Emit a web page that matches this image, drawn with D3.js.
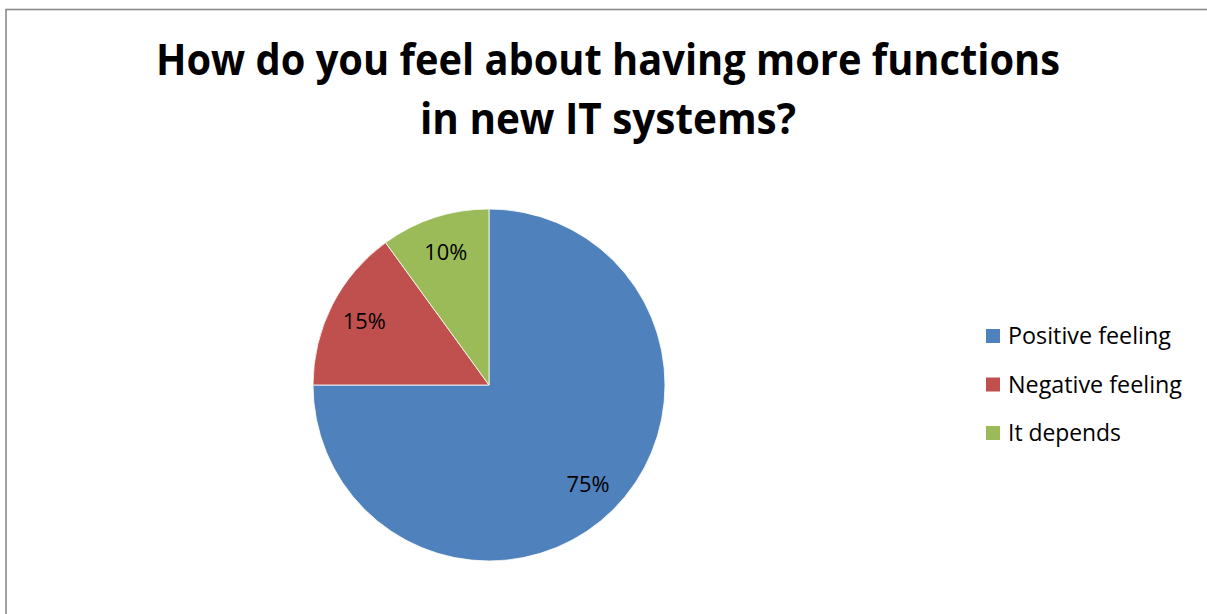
<!DOCTYPE html>
<html>
<head>
<meta charset="utf-8">
<script src="https://cdn.jsdelivr.net/npm/d3@7"></script>
<style>
  html, body { margin: 0; padding: 0; background: #fff; }
  svg { display: block; }
</style>
</head>
<body>
<svg id="chart" width="1207" height="614"></svg>
<script>
// Survey answers
const categories = ["Positive feeling", "Negative feeling", "It depends"];
const shares = [75, 15, 10];
const sliceColors = ["#4F81BD", "#C0504D", "#9BBB59"];
const titleLines = ["How do you feel about having more functions", "in new IT systems?"];

const svg = d3.select("#chart");
const W = 1207, H = 614;

// Chart frame (runs past the right and bottom edges)
svg.append("rect")
  .attr("x", 6).attr("y", 9.5)
  .attr("width", W + 20).attr("height", H + 20)
  .attr("fill", "#fff")
  .attr("stroke", "#8a8a8a")
  .attr("stroke-width", 1.6);

// Title
const titleWidths = [904, 376];
const titleBase = [75, 134];
titleLines.forEach((t, i) => {
  svg.append("text")
    .attr("x", 608).attr("y", titleBase[i])
    .attr("text-anchor", "middle")
    .attr("font-family", "'Open Sans', sans-serif")
    .attr("font-weight", "bold")
    .attr("font-size", 43)
    .attr("fill", "#000")
    .attr("textLength", titleWidths[i])
    .attr("lengthAdjust", "spacingAndGlyphs")
    .text(t);
});

// Pie
const cx = 489, cy = 385, radius = 176;
const color = d3.scaleOrdinal().domain(categories).range(sliceColors);
const pie = d3.pie().sort(null).value(d => d.value);
const data = categories.map((c, i) => ({ name: c, value: shares[i] }));
const arcs = pie(data);
const arc = d3.arc().innerRadius(0).outerRadius(radius);
const labelArc = d3.arc().innerRadius(140).outerRadius(140);

const g = svg.append("g").attr("transform", `translate(${cx},${cy})`);
g.selectAll("path.slice")
  .data(arcs)
  .join("path")
  .attr("class", "slice")
  .attr("d", arc)
  .attr("fill", d => color(d.data.name))
  .attr("stroke", "#fff")
  .attr("stroke-width", 0.8);

g.selectAll("text.pct")
  .data(arcs)
  .join("text")
  .attr("class", "pct")
  .attr("transform", d => `translate(${labelArc.centroid(d)})`)
  .attr("text-anchor", "middle")
  .attr("dy", "0.36em")
  .attr("font-family", "'Open Sans', sans-serif")
  .attr("font-size", 22)
  .attr("fill", "#000")
  .attr("textLength", 43)
  .attr("lengthAdjust", "spacingAndGlyphs")
  .text(d => d.data.value + "%");

// Legend
const legendWidths = [163, 174, 113];
const legendY = d3.scalePoint().domain(categories).range([336, 433]);
const lg = svg.append("g");
const rows = lg.selectAll("g.row")
  .data(categories)
  .join("g")
  .attr("class", "row")
  .attr("transform", d => `translate(986,${legendY(d)})`);
rows.append("rect")
  .attr("x", 0).attr("y", -7)
  .attr("width", 14).attr("height", 14)
  .attr("fill", d => color(d));
rows.append("text")
  .attr("x", 22).attr("y", 8)
  .attr("font-family", "'Open Sans', sans-serif")
  .attr("font-size", 23)
  .attr("fill", "#000")
  .attr("textLength", (d, i) => legendWidths[i])
  .attr("lengthAdjust", "spacingAndGlyphs")
  .text(d => d);
</script>
</body>
</html>
